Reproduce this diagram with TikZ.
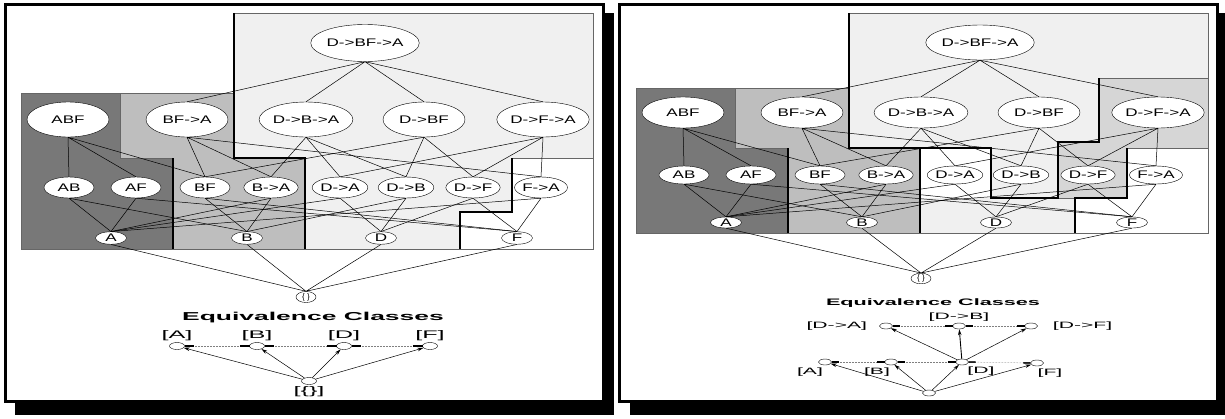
\documentclass[tikz,border=0pt]{standalone}
\usepackage{fontspec}
\setmainfont{Liberation Sans}
\newfontfamily\latfont[FakeStretch=1.55]{Liberation Sans}
\newfontfamily\eqfont[FakeStretch=2.3]{Liberation Sans}
\usetikzlibrary{arrows.meta, positioning, shapes.geometric}

\definecolor{darkcls}{HTML}{787878}
\definecolor{midcls}{HTML}{BEBEBE}
\definecolor{lightcls}{HTML}{F0F0F0}
\definecolor{subcls}{HTML}{D6D6D6}

\begin{document}
\begin{tikzpicture}[x=1pt, y=-1pt,
    elem/.style={draw, ellipse, fill=white, inner sep=0pt,
                 font=\latfont\fontsize{11}{12}\selectfont},
    lvtop/.style={elem, minimum width=100pt, minimum height=37pt},
    lvtwo/.style={elem, minimum width=82pt, minimum height=35pt},
    lvthree/.style={elem, minimum width=50pt, minimum height=21pt},
    lvfour/.style={elem, minimum width=31pt, minimum height=12.5pt},
    lvnull/.style={elem, minimum width=20pt, minimum height=11pt,
                   font=\fontsize{8}{9}\selectfont},
    link/.style={line width=0.5pt},
    region/.style={draw=gray!80!black, line width=0.6pt},
    bound/.style={line width=1.6pt},
    cls/.style={draw, ellipse, fill=white, inner sep=0pt,
                minimum width=15pt, minimum height=7pt},
    lbl/.style={inner sep=0pt, font=\eqfont\fontsize{11}{12}\selectfont},
    sub/.style={-{Stealth[length=6pt, width=3.5pt]}, line width=0.5pt},
    peer/.style={densely dotted, gray, line width=0.5pt,
                 {Rectangle[length=9pt, width=1.8pt, color=black]}-{Rectangle[length=9pt, width=1.8pt, color=black]}}]

    \useasboundingbox (0,0) rectangle (1225,418);

    % Frames with shadow
    \fill[black] (15,13) rectangle (614,415);
    \draw[line width=3pt, fill=white] (5,4.5) rectangle (603,401.5);
    \fill[black] (630,13) rectangle (1225,415);
    \draw[line width=3pt, fill=white] (619.5,4.5) rectangle (1217,401.5);

    % Left: classes [A] [B] [D] [F]
    \filldraw[region, fill=darkcls] (21,93) -- (120,93) -- (120,158) -- (173,158) -- (173,249) -- (21,249) -- cycle;
    \filldraw[region, fill=midcls] (120,93) -- (234,93) -- (234,158) -- (305,158) -- (305,249) -- (173,249) -- (173,158) -- (120,158) -- cycle;
    \filldraw[region, fill=lightcls] (234,13) -- (593,13) -- (593,158) -- (512,158) -- (512,212) -- (460,212) -- (460,249) -- (305,249) -- (305,158) -- (234,158) -- cycle;
    \filldraw[region, fill=white] (512,158) -- (593,158) -- (593,249) -- (460,249) -- (460,212) -- (512,212) -- cycle;
    \draw[bound] (173,158) -- (173,249);
    \draw[bound] (234,13) -- (234,158) -- (305,158) -- (305,249);
    \draw[bound] (512,158) -- (512,212) -- (460,212) -- (460,249);

    % Right: classes with [D->A] [D->B] [D->F]
    \filldraw[region, fill=darkcls] (636,88) -- (735,88) -- (735,148) -- (788,148) -- (788,233) -- (636,233) -- cycle;
    \filldraw[region, fill=midcls] (735,88) -- (849,88) -- (849,148) -- (920,148) -- (920,233) -- (788,233) -- (788,148) -- (735,148) -- cycle;
    \filldraw[region, fill=lightcls] (849,13) -- (1208,13) -- (1208,233) -- (920,233) -- (920,148) -- (849,148) -- cycle;
    \filldraw[region, fill=subcls] (1099,78) -- (1208,78) -- (1208,148) -- (1127,148) -- (1127,198) -- (1058,198) -- (1058,142) -- (1099,142) -- cycle;
    \filldraw[region, fill=white] (1127,148) -- (1208,148) -- (1208,233) -- (1075,233) -- (1075,198) -- (1127,198) -- cycle;
    \fill[white] (920,148) rectangle (991,198);
    \draw[bound] (788,148) -- (788,233);
    \draw[bound] (849,13) -- (849,148) -- (920,148) -- (920,233);
    \draw[bound] (920,148) -- (991,148) -- (991,198) -- (1058,198) -- (1058,142) -- (1099,142) -- (1099,78);
    \draw[bound] (1127,148) -- (1127,198) -- (1075,198) -- (1075,233);

    % Left lattice
    \node[lvtop] (lDBFA) at (365,43) {D->BF->A};
    \node[lvtwo] (lABF) at (68,119.5) {ABF};
    \node[lvtwo] (lBFA) at (187,119.5) {BF->A};
    \node[lvtwo] (lDBA) at (306,119.5) {D->B->A};
    \node[lvtwo] (lDBF) at (424,119.5) {D->BF};
    \node[lvtwo] (lDFA) at (543,119.5) {D->F->A};
    \node[lvthree] (lAB) at (69,187.5) {AB};
    \node[lvthree] (lAF) at (136,187.5) {AF};
    \node[lvthree] (lBF) at (205,187.5) {BF};
    \node[lvthree] (lBA) at (271,187.5) {B->A};
    \node[lvthree] (lDA) at (340,187.5) {D->A};
    \node[lvthree] (lDB) at (406,187.5) {D->B};
    \node[lvthree] (lDF) at (473,187.5) {D->F};
    \node[lvthree] (lFA) at (541,187.5) {F->A};
    \node[lvfour] (lA) at (111,238) {A};
    \node[lvfour] (lB) at (247,238) {B};
    \node[lvfour] (lD) at (381,238) {D};
    \node[lvfour] (lF) at (517,238) {F};
    \node[lvnull] (lE) at (306,297) {\{\ \}};

    \draw[link] (lDBFA.south) -- (lBFA.north) (lDBFA.south) -- (lDBA.north) (lDBFA.south) -- (lDBF.north) (lDBFA.south) -- (lDFA.north);
    \draw[link] (lABF.south) -- (lAB.north) (lABF.south) -- (lAF.north) (lABF.south) -- (lBF.north);
    \draw[link] (lBFA.south) -- (lBF.north) (lBFA.south) -- (lBA.north) (lBFA.south) -- (lFA.north);
    \draw[link] (lDBA.south) -- (lDA.north) (lDBA.south) -- (lDB.north) (lDBA.south) -- (lBA.north);
    \draw[link] (lDBF.south) -- (lDB.north) (lDBF.south) -- (lDF.north) (lDBF.south) -- (lBF.north);
    \draw[link] (lDFA.south) -- (lDF.north) (lDFA.south) -- (lDA.north) (lDFA.south) -- (lFA.north);
    \draw[link] (lAB.south) -- (lA.north) (lAB.south) -- (lB.north);
    \draw[link] (lAF.south) -- (lA.north) (lAF.south) -- (lF.north);
    \draw[link] (lBF.south) -- (lB.north) (lBF.south) -- (lF.north);
    \draw[link] (lBA.south) -- (lB.north) (lBA.south) -- (lA.north);
    \draw[link] (lDA.south) -- (lD.north) (lDA.south) -- (lA.north);
    \draw[link] (lDB.south) -- (lD.north) (lDB.south) -- (lB.north);
    \draw[link] (lDF.south) -- (lD.north) (lDF.south) -- (lF.north);
    \draw[link] (lFA.south) -- (lF.north) (lFA.south) -- (lA.north);
    \draw[link] (lA.south) -- (lE.north) (lB.south) -- (lE.north) (lD.south) -- (lE.north) (lF.south) -- (lE.north);

    % Right lattice
    \node[lvtop, minimum height=35pt] (rDBFA) at (980,42.5) {D->BF->A};
    \node[lvtwo, minimum height=31pt] (rABF) at (683,112.5) {ABF};
    \node[lvtwo, minimum height=31pt] (rBFA) at (802,112.5) {BF->A};
    \node[lvtwo, minimum height=31pt] (rDBA) at (921,112.5) {D->B->A};
    \node[lvtwo, minimum height=31pt] (rDBF) at (1039,112.5) {D->BF};
    \node[lvtwo, minimum height=31pt] (rDFA) at (1158,112.5) {D->F->A};
    \node[lvthree, minimum height=18pt] (rAB) at (684,175) {AB};
    \node[lvthree, minimum height=18pt] (rAF) at (751,175) {AF};
    \node[lvthree, minimum height=18pt] (rBF) at (820,175) {BF};
    \node[lvthree, minimum height=18pt] (rBA) at (886,175) {B->A};
    \node[lvthree, minimum height=18pt] (rDA) at (955,175) {D->A};
    \node[lvthree, minimum height=18pt] (rDB) at (1021,175) {D->B};
    \node[lvthree, minimum height=18pt] (rDF) at (1088,175) {D->F};
    \node[lvthree, minimum height=18pt] (rFA) at (1156,175) {F->A};
    \node[lvfour, minimum height=11pt] (rA) at (726,222.5) {A};
    \node[lvfour, minimum height=11pt] (rB) at (862,222.5) {B};
    \node[lvfour, minimum height=11pt] (rD) at (996,222.5) {D};
    \node[lvfour, minimum height=11pt] (rF) at (1132,222.5) {F};
    \node[lvnull, minimum height=10pt] (rE) at (921,278.5) {\{\ \}};

    \draw[link] (rDBFA.south) -- (rBFA.north) (rDBFA.south) -- (rDBA.north) (rDBFA.south) -- (rDBF.north) (rDBFA.south) -- (rDFA.north);
    \draw[link] (rABF.south) -- (rAB.north) (rABF.south) -- (rAF.north) (rABF.south) -- (rBF.north);
    \draw[link] (rBFA.south) -- (rBF.north) (rBFA.south) -- (rBA.north) (rBFA.south) -- (rFA.north);
    \draw[link] (rDBA.south) -- (rDA.north) (rDBA.south) -- (rDB.north) (rDBA.south) -- (rBA.north);
    \draw[link] (rDBF.south) -- (rDB.north) (rDBF.south) -- (rDF.north) (rDBF.south) -- (rBF.north);
    \draw[link] (rDFA.south) -- (rDF.north) (rDFA.south) -- (rDA.north) (rDFA.south) -- (rFA.north);
    \draw[link] (rAB.south) -- (rA.north) (rAB.south) -- (rB.north);
    \draw[link] (rAF.south) -- (rA.north) (rAF.south) -- (rF.north);
    \draw[link] (rBF.south) -- (rB.north) (rBF.south) -- (rF.north);
    \draw[link] (rBA.south) -- (rB.north) (rBA.south) -- (rA.north);
    \draw[link] (rDA.south) -- (rD.north) (rDA.south) -- (rA.north);
    \draw[link] (rDB.south) -- (rD.north) (rDB.south) -- (rB.north);
    \draw[link] (rDF.south) -- (rD.north) (rDF.south) -- (rF.north);
    \draw[link] (rFA.south) -- (rF.north) (rFA.south) -- (rA.north);
    \draw[link] (rA.south) -- (rE.north) (rB.south) -- (rE.north) (rD.south) -- (rE.north) (rF.south) -- (rE.north);

    % Left equivalence classes
    \node[font=\eqfont\bfseries\fontsize{11.5}{13}\selectfont] (ltitle) at (313,318) {Equivalence Classes};
    \node[cls] (lcA) at (177,346) {};
    \node[cls] (lcB) at (257,346) {};
    \node[cls] (lcD) at (344,346) {};
    \node[cls] (lcF) at (430,346) {};
    \node[cls] (lcE) at (309,381) {};
    \node[lbl, above=1pt of lcA] {[A]};
    \node[lbl, above=1pt of lcB] {[B]};
    \node[lbl, above=1pt of lcD] {[D]};
    \node[lbl, above=1pt of lcF] {[F]};
    \node[lbl, below=2pt of lcE] {[\{\}]};
    \draw[peer] (lcA) -- (lcB);
    \draw[peer] (lcB) -- (lcD);
    \draw[peer] (lcD) -- (lcF);
    \draw[sub] (lcE) -- (lcA);
    \draw[sub] (lcE) -- (lcB);
    \draw[sub] (lcE) -- (lcD);
    \draw[sub] (lcE) -- (lcF);

    % Right equivalence classes
    \begin{scope}[cls/.append style={minimum width=13pt, minimum height=6pt},
                  lbl/.append style={font=\eqfont\fontsize{9.2}{11}\selectfont},
                  peer/.style={densely dotted, gray, line width=0.5pt,
                   {Rectangle[length=7pt, width=1.6pt, color=black]}-{Rectangle[length=7pt, width=1.6pt, color=black]}}]
    \node[font=\eqfont\bfseries\fontsize{9.4}{11}\selectfont] (rtitle) at (933,303) {Equivalence Classes};
    \node[cls] (rcDA) at (886,326) {};
    \node[cls] (rcDB) at (959,326) {};
    \node[cls] (rcDF) at (1031,326) {};
    \node[cls] (rcA) at (825,362) {};
    \node[cls] (rcB) at (891,362) {};
    \node[cls] (rcD) at (962,362) {};
    \node[cls] (rcF) at (1037,363) {};
    \node[cls] (rcE) at (929,393) {};
    \node[lbl, left=12pt of rcDA] {[D->A]};
    \node[lbl, above=1pt of rcDB] {[D->B]};
    \node[lbl, right=15pt of rcDF] {[D->F]};
    \node[lbl] at ([xshift=-15pt, yshift=-10pt]rcA.center) {[A]};
    \node[lbl] at ([xshift=-14pt, yshift=-10pt]rcB.center) {[B]};
    \node[lbl] at ([xshift=19pt, yshift=-9pt]rcD.center) {[D]};
    \node[lbl] at ([xshift=13pt, yshift=-10pt]rcF.center) {[F]};
    \draw[peer] (rcDA) -- (rcDB);
    \draw[peer] (rcDB) -- (rcDF);
    \draw[peer] (rcA) -- (rcB);
    \draw[peer] (rcB) -- (rcD);
    \draw[peer] (rcD) -- (rcF);
    \draw[sub] (rcE) -- (rcA);
    \draw[sub] (rcE) -- (rcB);
    \draw[sub] (rcE) -- (rcD);
    \draw[sub] (rcE) -- (rcF);
    \draw[sub] (rcD) -- (rcDA);
    \draw[sub, line width=0.9pt] (rcD) -- (rcDB);
    \draw[sub] (rcD) -- (rcDF);
    \end{scope}
\end{tikzpicture}
\end{document}
